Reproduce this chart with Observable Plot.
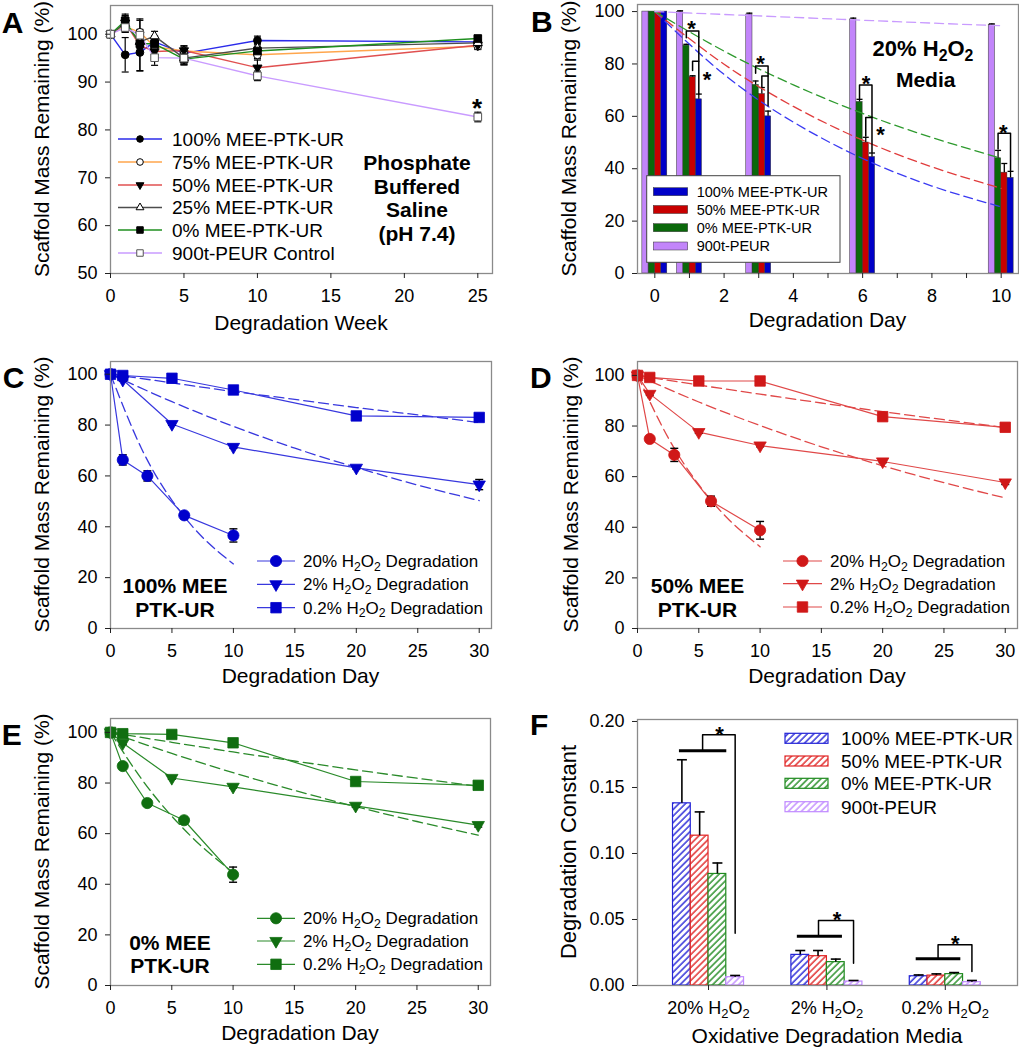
<!DOCTYPE html>
<html><head><meta charset="utf-8">
<script src="https://cdn.jsdelivr.net/npm/d3@7"></script>
<script src="https://cdn.jsdelivr.net/npm/@observablehq/plot@0.6"></script>
<style>
html,body{margin:0;padding:0;background:#fff;}
#fig{position:relative;width:1019px;height:1050px;overflow:hidden;background:#fff;font-family:"Liberation Sans",Arial,sans-serif;}
#fig > div{position:absolute;}
#fig svg{display:block;overflow:visible;}
</style></head><body><div id="fig"></div>
<script>
// ================= DATA =================
// Panel A: PBS degradation (weeks)
const weeksA = [0, 1, 2, 3, 5, 10, 25];
const namesA = ["100% MEE-PTK-UR", "75% MEE-PTK-UR", "50% MEE-PTK-UR", "25% MEE-PTK-UR", "0% MEE-PTK-UR", "900t-PEUR Control"];
const massA_100  = [100, 95.7, 96.2, 98.4, 96.0, 98.7, 98.4];
const massA_75   = [100, 101.6, 100.4, 97.4, 96.5, 95.7, 97.5];
const massA_50   = [100, 102.4, 97.6, 96.4, 96.6, 93.0, 97.7];
const massA_25   = [100, 102.2, 98.4, 99.6, 95.0, 97.1, 98.2];
const massA_0    = [100, 102.8, 98.0, 98.0, 94.8, 96.5, 99.1];
const massA_peur = [100, 101.4, 99.8, 95.1, 95.0, 91.3, 82.7];
const errA_100  = [0, 3.6, 3.8, 1.2, 1.0, 0.9, 0.6];
const errA_75   = [0, 1.2, 2.8, 1.0, 1.0, 0.8, 0.6];
const errA_50   = [0, 1.5, 5.3, 1.5, 1.0, 1.6, 0.9];
const errA_25   = [0, 1.6, 1.0, 1.0, 1.2, 1.0, 0.6];
const errA_0    = [0, 1.4, 1.0, 1.6, 1.2, 1.0, 0.6];
const errA_peur = [0, 1.0, 1.2, 1.6, 1.4, 1.0, 1.0];
const noteA = ["Phosphate", "Buffered", "Saline", "(pH 7.4)"];

// Panel B: 20% H2O2 (days)
const daysB = [0, 1, 3, 6, 10];
const namesB = ["100% MEE-PTK-UR", "50% MEE-PTK-UR", "0% MEE-PTK-UR", "900t-PEUR"];
const massB_100  = [100, 66.5, 60.0, 44.5, 36.5];
const massB_50   = [100, 75.0, 68.5, 50.0, 38.5];
const massB_0    = [100, 87.0, 72.0, 65.5, 44.0];
const massB_peur = [100, 99.9, 98.9, 97.0, 94.9];
const errB_100  = [0, 2.0, 2.0, 1.5, 2.5];
const errB_50   = [0, 0.5, 2.5, 2.0, 3.5];
const errB_0    = [0, 0.5, 1.5, 1.0, 3.0];
const errB_peur = [0, 0.4, 0.5, 0.5, 0.4];
const fitDaysB = [0, 2, 4, 6, 8, 10];
const fitB_100  = [100, 76.0, 57.8, 43.9, 33.4, 25.4];
const fitB_50   = [100, 79.9, 63.8, 50.9, 40.7, 32.5];
const fitB_0    = [100, 84.9, 72.0, 61.1, 51.9, 44.0];
const fitB_peur = [100, 98.9, 97.8, 96.7, 95.6, 94.6];
const noteB = ["20% H2O2", "Media"];

// Panels C-E: by H2O2 concentration (days)
const legendCDE = ["20% H2O2 Degradation", "2% H2O2 Degradation", "0.2% H2O2 Degradation"];
const days20 = [0, 1, 3, 6, 10];
const days2 = [0, 1, 5, 10, 20, 30];
const fitDays20 = [0, 2.5, 5, 7.5, 10];
const fitDays2 = [0, 5, 10, 15, 20, 25, 30];
// C: 100% MEE-PTK-UR
const massC_20 = [100, 66.3, 60.0, 44.5, 36.6];
const massC_2  = [100, 97.8, 80.4, 71.4, 63.2, 56.6];
const massC_02 = [100, 99.5, 98.4, 93.8, 83.6, 83.0];
const errC_20 = [0, 2.0, 2.0, 1.0, 2.6];
const errC_2  = [0, 0.5, 0.5, 0.5, 0.5, 2.0];
const errC_02 = [0, 0.3, 0.3, 0.5, 0.5, 0.5];
const fitC_20 = [100, 71.0, 50.4, 35.8, 25.4];
const fitC_2  = [100, 89.2, 79.5, 70.9, 63.3, 56.4, 50.3];
const fitC_02 = [100, 96.6, 93.2, 90.1, 86.9, 84.0, 81.0];
const noteC = ["100% MEE", "PTK-UR"];
// D: 50% MEE-PTK-UR
const massD_20 = [100, 74.9, 68.6, 50.3, 38.8];
const massD_2  = [100, 92.7, 77.6, 72.3, 66.0, 57.7];
const massD_02 = [100, 99.2, 97.8, 97.8, 83.7, 79.5];
const errD_20 = [0, 0.5, 2.6, 2.0, 3.5];
const errD_2  = [0, 0.5, 0.5, 0.5, 0.5, 0.8];
const errD_02 = [0, 0.3, 0.3, 0.3, 0.5, 0.5];
const fitD_20 = [100, 75.4, 56.8, 42.8, 32.3];
const fitD_2  = [100, 89.5, 80.2, 71.8, 64.3, 57.6, 51.6];
const fitD_02 = [100, 96.2, 92.6, 89.1, 85.7, 82.5, 79.4];
const noteD = ["50% MEE", "PTK-UR"];
// E: 0% MEE-PTK-UR
const massE_20 = [100, 86.7, 72.1, 65.3, 43.8];
const massE_2  = [100, 95.8, 82.0, 78.5, 71.0, 63.4];
const massE_02 = [100, 99.5, 99.2, 95.9, 80.6, 79.1];
const errE_20 = [0, 0.5, 1.0, 0.5, 3.0];
const errE_2  = [0, 0.5, 0.5, 0.5, 0.5, 0.8];
const errE_02 = [0, 0.3, 0.3, 0.3, 0.3, 0.5];
const fitE_20 = [100, 81.8, 66.9, 54.7, 44.7];
const fitE_2  = [100, 91.7, 84.1, 77.1, 70.7, 64.8, 59.4];
const fitE_02 = [100, 96.1, 92.3, 88.7, 85.2, 81.9, 78.7];
const noteE = ["0% MEE", "PTK-UR"];

// Panel F: degradation constants
const mediaF = ["20% H2O2", "2% H2O2", "0.2% H2O2"];
const namesF = ["100% MEE-PTK-UR", "50% MEE-PTK-UR", "0% MEE-PTK-UR", "900t-PEUR"];
const kF_100  = [0.138, 0.0232, 0.0070];
const kF_50   = [0.1135, 0.0222, 0.0075];
const kF_0    = [0.0845, 0.0177, 0.0086];
const kF_peur = [0.0063, 0.0030, 0.0025];
const errF_100  = [0.033, 0.0033, 0.0010];
const errF_50   = [0.018, 0.0043, 0.0013];
const errF_0    = [0.0083, 0.0023, 0.0012];
const errF_peur = [0.0013, 0.0008, 0.0013];

// ================= HELPERS =================
const FONT = '"Liberation Sans", Arial, Helvetica, sans-serif';
const fig = document.getElementById("fig");
function place(svg, left, top) {
  const div = document.createElement("div");
  div.style.left = left + "px"; div.style.top = top + "px";
  div.appendChild(svg); fig.appendChild(div);
}
function addRich(t, str, fs) {
  const parts = str.split("H2O2");
  const sub = fs * 0.22, subSize = fs * 0.72;
  let shifted = false;
  const span = (s, small) => {
    const ts = t.append("tspan").text(s);
    if (small) { ts.attr("font-size", subSize); if (!shifted) { ts.attr("dy", sub); shifted = true; } }
    else if (shifted) { ts.attr("dy", -sub); shifted = false; }
  };
  parts.forEach((p, i) => {
    if (p) span(p, false);
    if (i < parts.length - 1) { span("H", false); span("2", true); span("O", false); span("2", true); }
  });
}
function txt(g, x, y, str, o = {}) {
  const {size = 18, weight = "normal", anchor = "start", fill = "black", rotate = 0} = o;
  const t = g.append("text").attr("x", x).attr("y", y).attr("font-family", FONT)
    .attr("font-size", size).attr("font-weight", weight).attr("text-anchor", anchor).attr("fill", fill);
  if (rotate) t.attr("transform", `rotate(${rotate} ${x} ${y})`);
  addRich(t, str, size);
  return t;
}
const capSymbol = {draw(ctx, size) { const w = Math.sqrt(size / Math.PI); ctx.moveTo(-w, 0); ctx.lineTo(w, 0); }};
const triDown = {draw(ctx, size) {
  const s3 = Math.sqrt(3), y = Math.sqrt(size / (s3 * 3));
  ctx.moveTo(0, 2 * y); ctx.lineTo(s3 * y, -y); ctx.lineTo(-s3 * y, -y); ctx.closePath();
}};
const symType = {circle: d3.symbolCircle, square: d3.symbolSquare, triangle: d3.symbolTriangle};
function sym(g, x, y, type, r, fill, stroke, sw = 1) {
  const t = typeof type === "string" ? symType[type] : type;
  g.append("path").attr("d", d3.symbol(t, Math.PI * r * r)()).attr("transform", `translate(${x},${y})`)
    .attr("fill", fill).attr("stroke", stroke).attr("stroke-width", sw);
}
function errorBars(data, {cap = 4, sw = 1.2, up = false} = {}) {
  const d = data.filter(p => p.e > 0);
  const out = [
    Plot.ruleX(d, {x: "x", y1: p => up ? p.y : p.y - p.e, y2: p => p.y + p.e, stroke: "black", strokeWidth: sw}),
    Plot.dot(d, {x: "x", y: p => p.y + p.e, symbol: capSymbol, r: cap, stroke: "black", fill: "none", strokeWidth: sw})
  ];
  if (!up) out.push(Plot.dot(d, {x: "x", y: p => p.y - p.e, symbol: capSymbol, r: cap, stroke: "black", fill: "none", strokeWidth: sw}));
  return out;
}
function axisMarks(xticks, xfmt, yticks, yfmt) {
  return [
    Plot.axisX({ticks: xticks, tickFormat: xfmt, tickSize: 5, tickPadding: 11, label: null, stroke: "#222"}),
    Plot.axisY({ticks: yticks, tickFormat: yfmt, tickSize: 5, tickPadding: 8, label: null, stroke: "#222"})
  ];
}
const frameMark = () => Plot.frame({stroke: "#8a8a8a", strokeWidth: 1.3});
const baseStyle = {fontFamily: FONT, fontSize: "18px", background: "transparent", color: "black", overflow: "visible"};
const decor = fn => () => { const g = d3.create("svg:g"); fn(g); return g.node(); };

// ================= PANEL A =================
{
  const colA = ["#2b2bea", "#ffa64d", "#e05050", "#4d4d4d", "#1f8f1f", "#c99bff"];
  const symA = [
    {type: "circle", r: 3.9, fill: "black", stroke: "black"},
    {type: "circle", r: 3.9, fill: "white", stroke: "black"},
    {type: triDown, r: 3.4, fill: "black", stroke: "black"},
    {type: "triangle", r: 3.4, fill: "white", stroke: "black"},
    {type: "square", r: 4.3, fill: "black", stroke: "black"},
    {type: "square", r: 4.3, fill: "white", stroke: "#555"}
  ];
  const massA = [massA_100, massA_75, massA_50, massA_25, massA_0, massA_peur];
  const errA = [errA_100, errA_75, errA_50, errA_25, errA_0, errA_peur];
  const series = namesA.map((n, i) => weeksA.map((w, j) => ({s: n, x: w, y: massA[i][j], e: errA[i][j]})));
  const marks = [];
  series.forEach((d, i) => marks.push(Plot.line(d, {x: "x", y: "y", stroke: colA[i], strokeWidth: 1.4})));
  series.forEach(d => marks.push(...errorBars(d, {cap: 3.5, sw: 1.2})));
  series.forEach((d, i) => marks.push(Plot.dot(d, {x: "x", y: "y", symbol: symA[i].type, r: symA[i].r, fill: symA[i].fill, stroke: symA[i].stroke, strokeWidth: 1})));
  marks.push(frameMark(), ...axisMarks([0, 5, 10, 15, 20, 25], d => d, [50, 60, 70, 80, 90, 100], d => d));
  marks.push(decor(g => {
    txt(g, 1.7, 33, "A", {size: 30, weight: "bold"});
    txt(g, 301, 330, "Degradation Week", {size: 21, anchor: "middle"});
    txt(g, 49, 139, "Scaffold Mass Remaining (%)", {size: 21, anchor: "middle", rotate: -90});
    const ny = [170, 194, 217, 241];
    noteA.forEach((s, i) => txt(g, 417, ny[i], s, {size: 21, weight: "bold", anchor: "middle"}));
    txt(g, 477, 117, "*", {size: 26, weight: "bold", anchor: "middle"});
    const rows = [139, 162, 185, 207.5, 230, 253];
    namesA.forEach((n, i) => {
      g.append("line").attr("x1", 118).attr("x2", 162).attr("y1", rows[i]).attr("y2", rows[i]).attr("stroke", colA[i]).attr("stroke-width", 1.4);
      sym(g, 140, rows[i], symA[i].type, symA[i].r * 0.85, symA[i].fill, symA[i].stroke);
      txt(g, 172, rows[i] + 6.8, n, {size: 19});
    });
  }));
  const svg = Plot.plot({width: 505, height: 345, marginLeft: 110, marginRight: 13, marginTop: 5, marginBottom: 72,
    x: {domain: [0, 26], label: null}, y: {domain: [50, 106], label: null}, style: baseStyle, marks});
  place(svg, 0, 0);
}

// ================= PANEL B =================
{
  const colB = ["#0000c8", "#c80000", "#0a680a", "#c285fa"];
  const dashB = ["#3a3af2", "#e03c3c", "#2e9a2e", "#c99bff"];
  const slot = [3, 2, 1, 0];
  const barW = 0.18;
  const massB = [massB_100, massB_50, massB_0, massB_peur];
  const errB = [errB_100, errB_50, errB_0, errB_peur];
  const fitB = [fitB_100, fitB_50, fitB_0, fitB_peur];
  const bars = namesB.map((n, i) => daysB.map((d, j) => ({s: n, x: d + (slot[i] - 2) * barW + barW / 2, y: massB[i][j], e: errB[i][j]})));
  const fits = namesB.map((n, i) => fitDaysB.map((d, j) => ({s: n, x: d, y: fitB[i][j]})));
  const brackets = [
    {x1: 0.91, x2: 1.27, top: 92.6, b1: 90.0, b2: 81.0},
    {x1: 1.09, x2: 1.27, top: 81.0, b1: 77.5, b2: 68.5},
    {x1: 2.91, x2: 3.27, top: 79.2, b1: 76.5, b2: 75.4},
    {x1: 3.09, x2: 3.27, top: 75.4, b1: 71.2, b2: 64.0},
    {x1: 5.91, x2: 6.27, top: 72.0, b1: 66.8, b2: 59.6},
    {x1: 6.09, x2: 6.27, top: 59.6, b1: 52.5, b2: 46.3},
    {x1: 9.91, x2: 10.27, top: 53.5, b1: 47.5, b2: 39.3}
  ];
  const brPts = brackets.flatMap((b, i) => [[b.x1, b.b1], [b.x1, b.top], [b.x2, b.top], [b.x2, b.b2]].map(([x, y]) => ({z: i, x, y})));
  const starsB = [{x: 1.06, y: 95.4}, {x: 1.51, y: 76.2}, {x: 3.05, y: 82.1}, {x: 6.10, y: 74.6}, {x: 6.52, y: 55.2}, {x: 10.06, y: 56.0}];
  const marks = [];
  bars.forEach((d, i) => marks.push(Plot.rect(d, {x1: p => p.x - barW / 2, x2: p => p.x + barW / 2, y1: 0, y2: "y", fill: colB[i], stroke: "#333", strokeWidth: 0.5})));
  bars.forEach(d => marks.push(...errorBars(d, {cap: 3, sw: 1.3, up: true})));
  fits.forEach((d, i) => marks.push(Plot.line(d, {x: "x", y: "y", stroke: dashB[i], strokeWidth: 1.3, strokeDasharray: "9,5", curve: "natural"})));
  marks.push(Plot.line(brPts, {x: "x", y: "y", z: "z", stroke: "black", strokeWidth: 1.5}));
  marks.push(Plot.text(starsB, {x: "x", y: "y", text: () => "*", fontSize: 22, fontWeight: "bold", dy: 5.7}));
  marks.push(decor(g => {
    g.append("rect").attr("x", 141.7).attr("y", 175.7).attr("width", 193.3).attr("height", 86.6).attr("fill", "white").attr("stroke", "#444").attr("stroke-width", 1);
    const rows = [191.7, 209.5, 227.7, 246];
    namesB.forEach((n, i) => {
      g.append("rect").attr("x", 148.3).attr("y", rows[i] - 4).attr("width", 34.4).attr("height", 8).attr("fill", colB[i]).attr("stroke", "#333").attr("stroke-width", 0.5);
      txt(g, 191.7, rows[i] + 5.2, n, {size: 14.5});
    });
    txt(g, 26, 32, "B", {size: 30, weight: "bold"});
    txt(g, 322.5, 327, "Degradation Day", {size: 21, anchor: "middle"});
    txt(g, 71, 138.5, "Scaffold Mass Remaining (%)", {size: 21, anchor: "middle", rotate: -90});
    txt(g, 418, 56, noteB[0], {size: 22, weight: "bold", anchor: "middle"});
    txt(g, 420.7, 87, noteB[1], {size: 21, weight: "bold", anchor: "middle"});
  }));
  marks.push(frameMark(), ...axisMarks(d3.range(0, 11), d => d % 2 ? "" : d, [0, 20, 40, 60, 80, 100], d => d));
  const svg = Plot.plot({width: 514, height: 345, marginLeft: 132, marginRight: 1, marginTop: 4, marginBottom: 72,
    x: {domain: [-0.5, 10.5], label: null}, y: {domain: [0, 102.7], label: null}, style: baseStyle, marks});
  place(svg, 505, 0);
}

// ================= PANELS C, D, E =================
function degradationPanel(cfg) {
  const {left, top, width, height, mL, mR, mT, mB, yMax, mass, err, fit, markColor, lineColor,
    letter, letterX, letterY, note, noteX, noteY, leg, ytX, xtY} = cfg;
  const daysS = [days20, days2, days2];
  const fitDaysS = [fitDays20, fitDays2, fitDays2];
  const syms = [{type: "circle", r: 5.6}, {type: triDown, r: 4.6}, {type: "square", r: 5.9}];
  const series = mass.map((m, i) => daysS[i].map((d, j) => ({x: d, y: m[j], e: err[i][j]})));
  const fits = fit.map((f, i) => fitDaysS[i].map((d, j) => ({x: d, y: f[j]})));
  const marks = [];
  fits.forEach(d => marks.push(Plot.line(d, {x: "x", y: "y", stroke: lineColor, strokeWidth: 1.3, strokeDasharray: "10,5", curve: "natural"})));
  series.forEach(d => marks.push(Plot.line(d, {x: "x", y: "y", stroke: lineColor, strokeWidth: 1.2})));
  series.forEach(d => marks.push(...errorBars(d, {cap: 4, sw: 1.4})));
  series.forEach((d, i) => marks.push(Plot.dot(d, {x: "x", y: "y", symbol: syms[i].type, r: syms[i].r, fill: markColor, stroke: markColor, strokeWidth: 0.8})));
  marks.push(frameMark(), ...axisMarks([0, 5, 10, 15, 20, 25, 30], d => d, [0, 20, 40, 60, 80, 100], d => d));
  marks.push(decor(g => {
    txt(g, letterX, letterY, letter, {size: 30, weight: "bold"});
    txt(g, (mL + width - mR) / 2, xtY, "Degradation Day", {size: 21, anchor: "middle"});
    txt(g, ytX, (mT + height - mB) / 2, "Scaffold Mass Remaining (%)", {size: 21, anchor: "middle", rotate: -90});
    txt(g, noteX, noteY[0], note[0], {size: 21, weight: "bold", anchor: "middle"});
    txt(g, noteX, noteY[1], note[1], {size: 21, weight: "bold", anchor: "middle"});
    legendCDE.forEach((n, i) => {
      const y = leg.rows[i];
      g.append("line").attr("x1", leg.x1).attr("x2", leg.x2).attr("y1", y).attr("y2", y).attr("stroke", lineColor).attr("stroke-width", 1.2);
      sym(g, (leg.x1 + leg.x2) / 2, y, syms[i].type, syms[i].r, markColor, markColor, 0.8);
      txt(g, leg.tx, y + 6, n, {size: 17});
    });
  }));
  const svg = Plot.plot({width, height, marginLeft: mL, marginRight: mR, marginTop: mT, marginBottom: mB,
    x: {domain: [0, 31], label: null}, y: {domain: [0, yMax], label: null}, style: baseStyle, marks});
  place(svg, left, top);
}
degradationPanel({left: 0, top: 345, width: 505, height: 345, mL: 110, mR: 14, mT: 16, mB: 62, yMax: 105,
  mass: [massC_20, massC_2, massC_02], err: [errC_20, errC_2, errC_02], fit: [fitC_20, fitC_2, fitC_02],
  markColor: "#0000cc", lineColor: "#3838de", letter: "C", letterX: 2.7, letterY: 43,
  note: noteC, noteX: 175, noteY: [248, 272], leg: {x1: 257, x2: 295, tx: 303, rows: [216, 239.3, 262.7]}, ytX: 49, xtY: 338});
degradationPanel({left: 505, top: 345, width: 514, height: 345, mL: 132, mR: 2, mT: 16, mB: 62, yMax: 105.5,
  mass: [massD_20, massD_2, massD_02], err: [errD_20, errD_2, errD_02], fit: [fitD_20, fitD_2, fitD_02],
  markColor: "#d01818", lineColor: "#e04848", letter: "D", letterX: 25, letterY: 43,
  note: noteD, noteX: 192.5, noteY: [248, 272], leg: {x1: 278, x2: 317, tx: 325, rows: [216, 238.7, 262]}, ytX: 73, xtY: 338});
degradationPanel({left: 0, top: 690, width: 505, height: 360, mL: 110, mR: 15, mT: 28, mB: 65, yMax: 105.5,
  mass: [massE_20, massE_2, massE_02], err: [errE_20, errE_2, errE_02], fit: [fitE_20, fitE_2, fitE_02],
  markColor: "#106e10", lineColor: "#2a8a2a", letter: "E", letterX: 1.7, letterY: 55,
  note: noteE, noteX: 170, noteY: [260, 283], leg: {x1: 257, x2: 295, tx: 303, rows: [228.3, 251, 274.3]}, ytX: 49, xtY: 350});

// ================= PANEL F =================
{
  const colF = ["#2323d6", "#e02323", "#1f8a1f", "#c08aff"];
  const barW = 0.15;
  const kF = [kF_100, kF_50, kF_0, kF_peur];
  const errF = [errF_100, errF_50, errF_0, errF_peur];
  const bars = namesF.map((n, s) => mediaF.map((m, g) => ({s: n, x: g + (s - 2) * barW + barW / 2, y: kF[s][g], e: errF[s][g]})));
  const sigF = [
    {bar: [-0.25, 0.15], base: 0.1778, mid: -0.05, top: 0.19, right: 0.225, end: 0.0396, star: [0.093, 0.194]},
    {bar: [-0.254, 0.127], base: 0.0373, mid: -0.071, top: 0.0492, right: 0.225, end: 0.0169, star: [0.085, 0.0537]},
    {bar: [-0.25, 0.127], base: 0.0202, mid: -0.061, top: 0.0308, right: 0.225, end: 0.0106, star: [0.085, 0.036]}
  ];
  const thinPts = sigF.flatMap((b, i) => [[i + b.mid, b.base], [i + b.mid, b.top], [i + b.right, b.top], [i + b.right, b.end]].map(([x, y]) => ({z: i, x, y})));
  const marks = [];
  marks.push(decor(g => {
    const defs = g.append("defs");
    colF.forEach((c, i) => {
      const p = defs.append("pattern").attr("id", "hatchF" + i).attr("patternUnits", "userSpaceOnUse")
        .attr("width", 4.6).attr("height", 4.6).attr("patternTransform", "rotate(45)");
      p.append("rect").attr("width", 4.6).attr("height", 4.6).attr("fill", "white");
      p.append("line").attr("x1", 1).attr("x2", 1).attr("y1", 0).attr("y2", 4.6).attr("stroke", c).attr("stroke-width", 1.4);
    });
  }));
  bars.forEach((d, i) => marks.push(Plot.rect(d, {x1: p => p.x - barW / 2, x2: p => p.x + barW / 2, y1: 0, y2: "y", fill: `url(#hatchF${i})`, stroke: colF[i], strokeWidth: 1.2})));
  bars.forEach(d => marks.push(...errorBars(d, {cap: 5, sw: 1.6, up: true})));
  marks.push(Plot.link(sigF, {x1: (d, i) => i + d.bar[0], x2: (d, i) => i + d.bar[1], y1: "base", y2: "base", stroke: "black", strokeWidth: 3}));
  marks.push(Plot.line(thinPts, {x: "x", y: "y", z: "z", stroke: "black", strokeWidth: 1.5}));
  marks.push(Plot.text(sigF, {x: (d, i) => i + d.star[0], y: d => d.star[1], text: () => "*", fontSize: 22, fontWeight: "bold", dy: 5.7}));
  marks.push(frameMark(), ...axisMarks([0, 1, 2], i => mediaF[i], [0, 0.05, 0.10, 0.15, 0.20], d3.format(".2f")));
  marks.push(decor(g => {
    txt(g, 25, 45, "F", {size: 30, weight: "bold"});
    txt(g, 322, 353, "Oxidative Degradation Media", {size: 21, anchor: "middle"});
    txt(g, 71, 162, "Degradation Constant", {size: 22, anchor: "middle", rotate: -90});
    const rows = [48.3, 71, 93.3, 116.7];
    namesF.forEach((n, i) => {
      g.append("rect").attr("x", 280).attr("y", rows[i] - 5).attr("width", 43).attr("height", 10)
        .attr("fill", `url(#hatchF${i})`).attr("stroke", colF[i]).attr("stroke-width", 1.2);
      txt(g, 336, rows[i] + 6.8, n, {size: 19});
    });
  }));
  const svg = Plot.plot({width: 514, height: 360, marginLeft: 132, marginRight: 2, marginTop: 29, marginBottom: 65,
    x: {domain: [-0.6, 2.61], label: null}, y: {domain: [0, 0.2015], label: null}, style: baseStyle, marks});
  d3.select(svg).selectAll("text").each(function() {
    const s = this.textContent;
    if (s.includes("H2O2") && !this.querySelector("tspan")) { const t = d3.select(this); t.text(null); addRich(t, s, 18); }
  });
  place(svg, 505, 690);
}
</script></body></html>
